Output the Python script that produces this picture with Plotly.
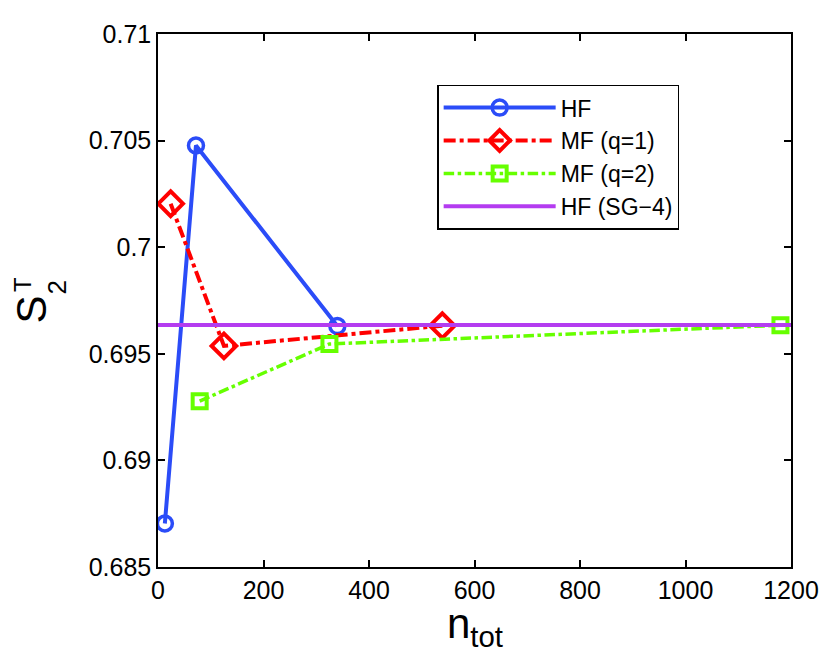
import plotly.graph_objects as go

# values
hf_n = [13, 72, 340]
hf_s = [0.68704, 0.70477, 0.6963]

mf1_n = [24, 125, 539]
mf1_s = [0.70204, 0.69537, 0.69632]

mf2_n = [79, 325, 1180]
mf2_s = [0.69278, 0.69546, 0.69634]

sg4_n = [0, 1200]
sg4_s = [0.69635, 0.69635]

x_ticks = [0, 200, 400, 600, 800, 1000, 1200]
y_ticks = [0.685, 0.69, 0.695, 0.7, 0.705, 0.71]
y_tick_text = ["0.685", "0.69", "0.695", "0.7", "0.705", "0.71"]

blue = "#2b4cf8"
red = "#ff0000"
green = "#66ff00"
purple = "#b43cf0"

FONT = "Liberation Sans, Arial"

fig = go.Figure()
fig.add_trace(go.Scatter(
    x=hf_n, y=hf_s, name="HF", mode="lines+markers",
    line=dict(color=blue, width=4),
    marker=dict(symbol="circle-open", size=15, color=blue, line=dict(width=3.5)),
))
fig.add_trace(go.Scatter(
    x=mf1_n, y=mf1_s, name="MF (q=1)", mode="lines+markers",
    line=dict(color=red, width=4, dash="dashdot"),
    marker=dict(symbol="diamond-open", size=19, color=red, line=dict(width=4)),
))
fig.add_trace(go.Scatter(
    x=mf2_n, y=mf2_s, name="MF (q=2)", mode="lines+markers",
    line=dict(color=green, width=3.5, dash="dashdot"),
    marker=dict(symbol="square-open", size=14, color=green, line=dict(width=4)),
))
fig.add_trace(go.Scatter(
    x=sg4_n, y=sg4_s, name="HF (SG\u22124)", mode="lines",
    line=dict(color=purple, width=4),
))

axis_common = dict(
    showline=True, linecolor="black", linewidth=1.5, mirror="ticks",
    ticks="inside", ticklen=7, tickwidth=1.5, tickcolor="black",
    showgrid=False, zeroline=False,
    tickfont=dict(family=FONT, size=25, color="black"),
)

fig.update_xaxes(range=[0, 1200], tickvals=x_ticks, **axis_common)
fig.update_yaxes(range=[0.685, 0.71], tickvals=y_ticks, ticktext=y_tick_text,
                 **axis_common)

# axis labels as annotations (stacked S_2^T)
lab_font = dict(family=FONT, color="black")
ann = dict(xref="paper", yref="paper", showarrow=False,
           xanchor="center", yanchor="middle")
fig.add_annotation(text="n<sub>tot</sub>", x=0.5, y=-0.112,
                   font=dict(size=42, **lab_font), **ann)
fig.add_annotation(text="S", x=-0.199, y=0.483, textangle=-90,
                   font=dict(size=42, **lab_font), **ann)
fig.add_annotation(text="T", x=-0.214, y=0.53, textangle=-90,
                   font=dict(size=24, **lab_font), **ann)
fig.add_annotation(text="2", x=-0.160, y=0.524, textangle=-90,
                   font=dict(size=26, **lab_font), **ann)

fig.update_layout(
    width=830, height=656,
    margin=dict(l=150, r=47, t=19, b=97),
    paper_bgcolor="white", plot_bgcolor="white",
    showlegend=True,
    legend=dict(x=0.441, y=0.905, xanchor="left", yanchor="top",
                bgcolor="white", bordercolor="black", borderwidth=1.5,
                font=dict(family=FONT, size=23, color="black"),
                itemwidth=112),
)

fig.write_html("out.html")
